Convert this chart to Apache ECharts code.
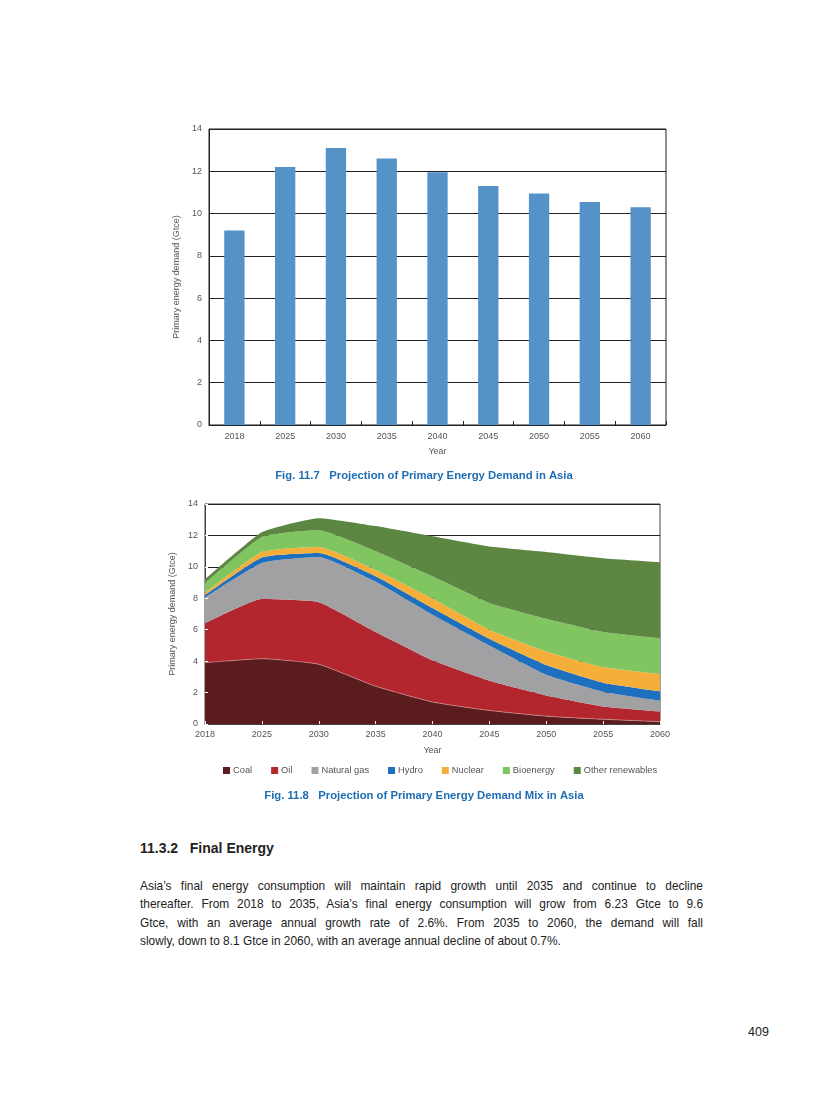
<!DOCTYPE html>
<html>
<head>
<meta charset="utf-8">
<script src="https://cdn.jsdelivr.net/npm/echarts@6/dist/echarts.min.js"></script>
<style>
  html, body { margin: 0; padding: 0; background: #fff; }
  #page { position: relative; width: 816px; height: 1100px; }
  #chart { position: absolute; left: 0; top: 0; width: 816px; height: 820px; }
  .txt { position: absolute; font-family: "Liberation Sans", Arial, sans-serif; color: #222; }
  #heading { left: 140px; top: 840px; font-size: 14px; font-weight: bold; white-space: pre; }
  #para { left: 140px; top: 877px; width: 563px; font-size: 11.9px; line-height: 18.3px; }
  #para div { text-align: justify; text-align-last: justify; white-space: nowrap; }
  #para div.last { text-align-last: left; }
  #pageno { left: 748px; top: 1025px; font-size: 12.5px; }
</style>
</head>
<body>
<div id="page">
  <div id="chart"></div>
  <div id="heading" class="txt">11.3.2   Final Energy</div>
  <div id="para" class="txt">
    <div>Asia’s final energy consumption will maintain rapid growth until 2035 and continue to decline</div>
    <div>thereafter. From 2018 to 2035, Asia’s final energy consumption will grow from 6.23 Gtce to 9.6</div>
    <div>Gtce, with an average annual growth rate of 2.6%. From 2035 to 2060, the demand will fall</div>
    <div class="last">slowly, down to 8.1 Gtce in 2060, with an average annual decline of about 0.7%.</div>
  </div>
  <div id="pageno" class="txt">409</div>
</div>
<script>
const years = ['2018', '2025', '2030', '2035', '2040', '2045', '2050', '2055', '2060'];
const yTicks = [0, 2, 4, 6, 8, 10, 12, 14];
const totalDemand = [9.2, 12.2, 13.1, 12.6, 11.95, 11.3, 10.95, 10.55, 10.3];

const coal = [3.9, 4.15, 3.8, 2.4, 1.4, 0.86, 0.5, 0.3, 0.15];
const oil = [2.5, 3.8, 3.95, 3.45, 2.65, 1.89, 1.32, 0.82, 0.65];
const naturalGas = [1.65, 2.3, 2.88, 3.2, 2.91, 2.25, 1.32, 0.94, 0.69];
const hydro = [0.15, 0.35, 0.25, 0.35, 0.42, 0.42, 0.61, 0.57, 0.59];
const nuclear = [0.15, 0.35, 0.39, 0.4, 0.6, 0.58, 0.87, 0.99, 1.09];
const bioenergy = [0.6, 0.95, 1.06, 1.2, 1.42, 1.7, 2.07, 2.23, 2.28];
const otherRenewables = [0.25, 0.3, 0.77, 1.6, 2.55, 3.6, 4.26, 4.7, 4.85];

const mixNames = ['Coal', 'Oil', 'Natural gas', 'Hydro', 'Nuclear', 'Bioenergy', 'Other renewables'];
const mixData = [coal, oil, naturalGas, hydro, nuclear, bioenergy, otherRenewables];
const mixColors = ['#5a1c1c', '#b3262e', '#a1a1a3', '#1e6fbd', '#f5ae3a', '#80c55f', '#5d8642'];

const FONT = '"Liberation Sans", Arial, sans-serif';
const labelStyle = { color: '#555', fontSize: 9, fontFamily: FONT };
const nameStyle = { color: '#555', fontSize: 9, fontFamily: FONT };

const chart = echarts.init(document.getElementById('chart'), null, { renderer: 'canvas' });

const option = {
  animation: false,
  textStyle: { fontFamily: FONT },
  title: [
    {
      text: 'Fig. 11.7   Projection of Primary Energy Demand in Asia',
      left: 419, top: 465, textAlign: 'center',
      textStyle: { color: '#1f6db3', fontSize: 11.3, fontWeight: 'bold', fontFamily: FONT }
    },
    {
      text: 'Fig. 11.8   Projection of Primary Energy Demand Mix in Asia',
      left: 419, top: 785, textAlign: 'center',
      textStyle: { color: '#1f6db3', fontSize: 11.3, fontWeight: 'bold', fontFamily: FONT }
    }
  ],
  legend: {
    data: mixNames,
    left: 218, top: 761,
    icon: 'rect', itemWidth: 7, itemHeight: 7, itemGap: 19,
    textStyle: { color: '#555', fontSize: 9.3, fontFamily: FONT, padding: [0, 0, 0, -2] }
  },
  grid: [
    { left: 209, top: 129, width: 457, height: 296, show: true, borderColor: '#222', borderWidth: 1, containLabel: false },
    { left: 205, top: 504, width: 455, height: 220, show: true, borderColor: '#444', borderWidth: 1, containLabel: false }
  ],
  xAxis: [
    {
      gridIndex: 0, type: 'category', data: years,
      name: 'Year', nameLocation: 'middle', nameGap: 22, nameTextStyle: nameStyle,
      axisLine: { lineStyle: { color: '#222' } },
      axisTick: { show: true, inside: true, length: 4, alignWithLabel: false, lineStyle: { color: '#222' } },
      axisLabel: Object.assign({ margin: 7 }, labelStyle)
    },
    {
      gridIndex: 1, type: 'category', data: years, boundaryGap: false, position: 'bottom',
      name: 'Year', nameLocation: 'middle', nameGap: 22, nameTextStyle: nameStyle,
      axisLine: { lineStyle: { color: '#444' } },
      axisTick: { show: false },
      axisLabel: Object.assign({ margin: 6 }, labelStyle)
    },
    {
      // overlay axis: white inner ticks drawn over the areas
      gridIndex: 1, type: 'category', data: years, boundaryGap: false, position: 'bottom',
      axisLine: { show: false }, axisLabel: { show: false }, splitLine: { show: false },
      axisTick: { show: true, inside: true, length: 3, lineStyle: { color: '#fff' } },
      z: 10
    }
  ],
  yAxis: [
    {
      gridIndex: 0, type: 'value', min: yTicks[0], max: yTicks[yTicks.length - 1], interval: 2,
      name: 'Primary energy demand (Gtce)', nameLocation: 'middle', nameGap: 28, nameRotate: 90,
      nameTextStyle: nameStyle,
      axisLine: { show: true, lineStyle: { color: '#222' } },
      axisTick: { show: false },
      splitLine: { show: true, lineStyle: { color: '#222', width: 1 } },
      axisLabel: Object.assign({ margin: 7 }, labelStyle)
    },
    {
      gridIndex: 1, type: 'value', min: yTicks[0], max: yTicks[yTicks.length - 1], interval: 2, position: 'left',
      name: 'Primary energy demand (Gtce)', nameLocation: 'middle', nameGap: 26, nameRotate: 90,
      nameTextStyle: nameStyle,
      axisLine: { show: true, lineStyle: { color: '#444' } },
      axisTick: { show: false },
      splitLine: { show: true, lineStyle: { color: '#222', width: 1 } },
      axisLabel: Object.assign({ margin: 7 }, labelStyle)
    },
    {
      gridIndex: 1, type: 'value', min: yTicks[0], max: yTicks[yTicks.length - 1], interval: 2, position: 'left',
      axisLine: { show: false }, axisLabel: { show: false }, splitLine: { show: false },
      axisTick: { show: true, inside: true, length: 3, lineStyle: { color: '#fff' } },
      z: 10
    }
  ],
  series: [
    {
      type: 'bar', xAxisIndex: 0, yAxisIndex: 0,
      data: totalDemand, barWidth: '40%',
      itemStyle: { color: '#5592c8' }
    }
  ].concat(mixNames.map((n, i) => ({
    name: n, type: 'line', xAxisIndex: 1, yAxisIndex: 1, stack: 'mix',
    data: mixData[i], smooth: 0.15, symbol: 'none',
    itemStyle: { color: mixColors[i] },
    lineStyle: { width: i === 0 ? 0.6 : 0, color: i === 0 ? '#d9a0a0' : mixColors[i] },
    areaStyle: { color: mixColors[i], opacity: 1 }
  })))
};

chart.setOption(option);
</script>
</body>
</html>
